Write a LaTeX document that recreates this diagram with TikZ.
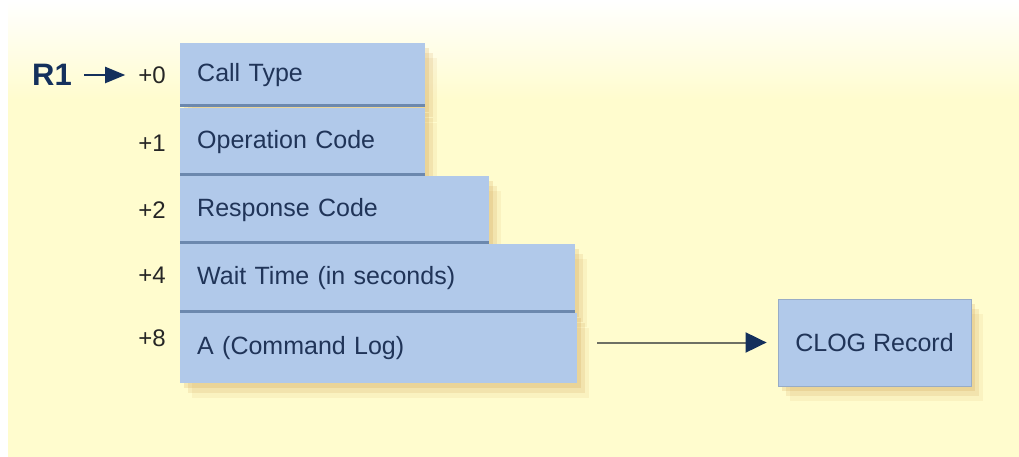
\documentclass[tikz,border=0pt]{standalone}
\usepackage{fontspec}
\setmainfont{Liberation Sans}
\usetikzlibrary{arrows.meta,shadows}
\definecolor{page yellow}{RGB}{255,252,206}
\definecolor{field fill}{RGB}{177,201,234}
\definecolor{field rule}{RGB}{108,136,174}
\definecolor{field text}{RGB}{32,52,88}
\definecolor{shade edge}{RGB}{200,145,60}
\definecolor{pointer}{RGB}{20,48,92}
\definecolor{link line}{RGB}{110,112,100}
\tikzset{soft shadow/.style={drop shadow={fill=shade edge, opacity=.18, shadow xshift=4pt, shadow yshift=-5pt},
        drop shadow={fill=shade edge, opacity=.14, shadow xshift=8pt, shadow yshift=-10pt},
        drop shadow={fill=shade edge, opacity=.09, shadow xshift=12pt, shadow yshift=-15pt}},
    field/.style={soft shadow, fill=field fill, anchor=north west, inner xsep=17pt, align=left,
        text=field text, font=\fontsize{25}{30}\selectfont},
    recbox/.style={soft shadow, fill=field fill, draw=field rule!70, line width=.8pt, minimum width=193pt,
        minimum height=87pt, text=field text, font=\fontsize{25}{30}\selectfont},
    fieldrule/.style={draw=field rule, line width=3pt},
    offs/.style={anchor=east, inner sep=0pt, text=black!85, font=\fontsize{24}{28}\selectfont},
    ptr/.style={draw=pointer, line width=2pt, -{Triangle[length=20pt,width=16pt]}},
    link/.style={draw=link line, line width=2pt, -{Triangle[length=21pt,width=20pt,color=pointer]}}}

\begin{document}
\begin{tikzpicture}[x=1pt,y=-1pt]
    \useasboundingbox (0,0) rectangle (1019,457);
    % background
    \fill[white] (0,0) rectangle (1019,457);
    \fill[page yellow] (8,100) rectangle (1019,457);
    \shade[top color=white, bottom color=page yellow] (8,0) rectangle (1019,100);
    % record fields
    \node[field, text width=211pt, minimum height=64pt] (calltype) at (180,43) {Call Type};
    \node[field, text width=211pt, minimum height=68pt] (opcode) at (calltype.south west) {Operation Code};
    \node[field, text width=275pt, minimum height=68pt] (respcode) at (opcode.south west) {Response Code};
    \node[field, text width=361pt, minimum height=68pt] (waittime) at (respcode.south west) {Wait Time (in seconds)};
    \node[field, text width=363pt, minimum height=70pt] (cmdlog) at (waittime.south west) {A (Command Log)};
    \foreach \f in {calltype,opcode,respcode,waittime}
        \draw[fieldrule] ([yshift=1.5pt]\f.south west) -- ([yshift=1.5pt]\f.south east);
    % offsets
    \foreach \y/\n in {75/0,143/1,210/2,275/4,338/8}
        \node[offs] (off\n) at (166,\y) {+\n};
    \node[anchor=east, inner sep=0pt, text=pointer, font=\bfseries\fontsize{31}{36}\selectfont] (r1) at (72,75) {R1};
    \draw[ptr, shorten <=12pt, shorten >=13pt] (r1) -- (off0);
    % command log
    \node[recbox] (clog) at (874.5,342.5) {CLOG Record};
    \draw[link, shorten <=20pt, shorten >=11pt] (cmdlog.east |- clog.west) -- (clog.west);
\end{tikzpicture}
\end{document}
